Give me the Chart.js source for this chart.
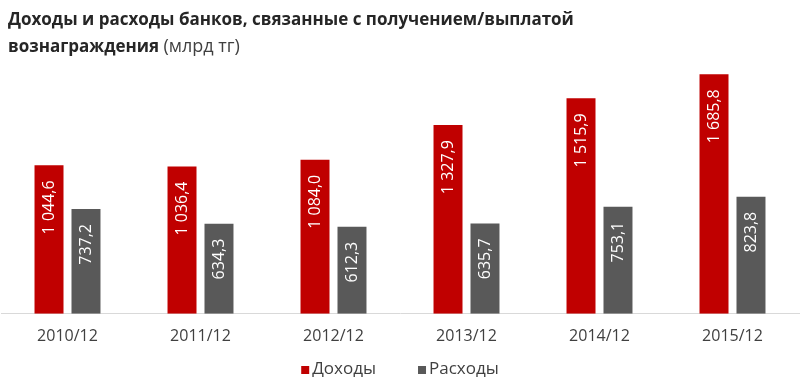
<!DOCTYPE html>
<html>
<head>
<meta charset="utf-8">
<script src="https://cdn.jsdelivr.net/npm/chart.js@4"></script>
<style>
  html, body { margin: 0; padding: 0; background: #fff; }
  #wrap { position: relative; width: 800px; height: 384px; }
  #title { position: absolute; left: 8px; top: 5px; font-family: "Open Sans", sans-serif; color: #262626; font-size: 17px; line-height: 27px; z-index: 2; }
  #title b { font-weight: bold; word-spacing: 0px; }
  #title span { font-weight: normal; color: #404040; font-size: 18px; }
  canvas { position: absolute; left: 0; top: 0; }
</style>
</head>
<body>
<div id="wrap">
  <div id="title"><b>Доходы и расходы банков, связанные с получением/выплатой<br>вознаграждения</b> <span>(млрд тг)</span></div>
  <canvas id="c" width="800" height="384"></canvas>
</div>
<script>
const categories = ["2010/12", "2011/12", "2012/12", "2013/12", "2014/12", "2015/12"];
const seriesNames = ["Доходы", "Расходы"];
const income = [1044.6, 1036.4, 1084.0, 1327.9, 1515.9, 1685.8];
const expenses = [737.2, 634.3, 612.3, 635.7, 753.1, 823.8];
const colors = ["#c00000", "#595959"];

function fmt(v) {
  const s = v.toFixed(1).split(".");
  const intPart = s[0].replace(/\B(?=(\d{3})+(?!\d))/g, " ");
  return intPart + "," + s[1];
}

const barLabels = {
  id: "barLabels",
  afterDatasetsDraw(chart) {
    const ctx = chart.ctx;
    chart.data.datasets.forEach((ds, di) => {
      const meta = chart.getDatasetMeta(di);
      meta.data.forEach((bar, i) => {
        ctx.save();
        ctx.translate(bar.x, bar.y + 15);
        ctx.rotate(-Math.PI / 2);
        ctx.textAlign = "right";
        ctx.textBaseline = "middle";
        ctx.fillStyle = "#ffffff";
        ctx.font = '16px "Open Sans", sans-serif';
        ctx.fillText(fmt(ds.data[i]), 0, 0);
        ctx.restore();
      });
    });
  }
};

const customLegend = {
  id: "customLegend",
  afterDraw(chart) {
    const ctx = chart.ctx;
    ctx.save();
    ctx.font = '17px "Open Sans", sans-serif';
    const box = 8, gap = 3, spacing = 42;
    const items = chart.data.datasets.map(ds => ({ label: ds.label, color: ds.backgroundColor, w: ctx.measureText(ds.label).width }));
    let total = 0;
    items.forEach((it, i) => { total += box + gap + it.w + (i ? spacing : 0); });
    let x = 400 - total / 2;
    const base = 374;
    items.forEach((it, i) => {
      if (i) x += spacing;
      ctx.fillStyle = it.color;
      ctx.fillRect(x, base - 8, box, box);
      x += box + gap;
      ctx.fillStyle = "#404040";
      ctx.textBaseline = "alphabetic";
      ctx.textAlign = "left";
      ctx.fillText(it.label, x, base);
      x += it.w;
    });
    ctx.restore();
  }
};

new Chart(document.getElementById("c"), {
  type: "bar",
  data: {
    labels: categories,
    datasets: [
      { label: seriesNames[0], data: income, backgroundColor: colors[0] },
      { label: seriesNames[1], data: expenses, backgroundColor: colors[1] }
    ]
  },
  options: {
    responsive: false,
    animation: false,
    events: [],
    categoryPercentage: 0.556,
    barPercentage: 0.784,
    layout: { padding: { top: 58, left: 1, right: 1, bottom: 25 } },
    plugins: { legend: { display: false }, title: { display: false }, tooltip: { enabled: false } },
    scales: {
      y: { display: false, min: 0, max: 1800 },
      x: {
        grid: { display: false, drawTicks: false },
        border: { display: true, color: "#d9d9d9", width: 1 },
        ticks: { color: "#404040", font: { family: '"Open Sans", sans-serif', size: 16 }, padding: 13, maxRotation: 0 }
      }
    }
  },
  plugins: [barLabels, customLegend]
});
</script>
</body>
</html>
